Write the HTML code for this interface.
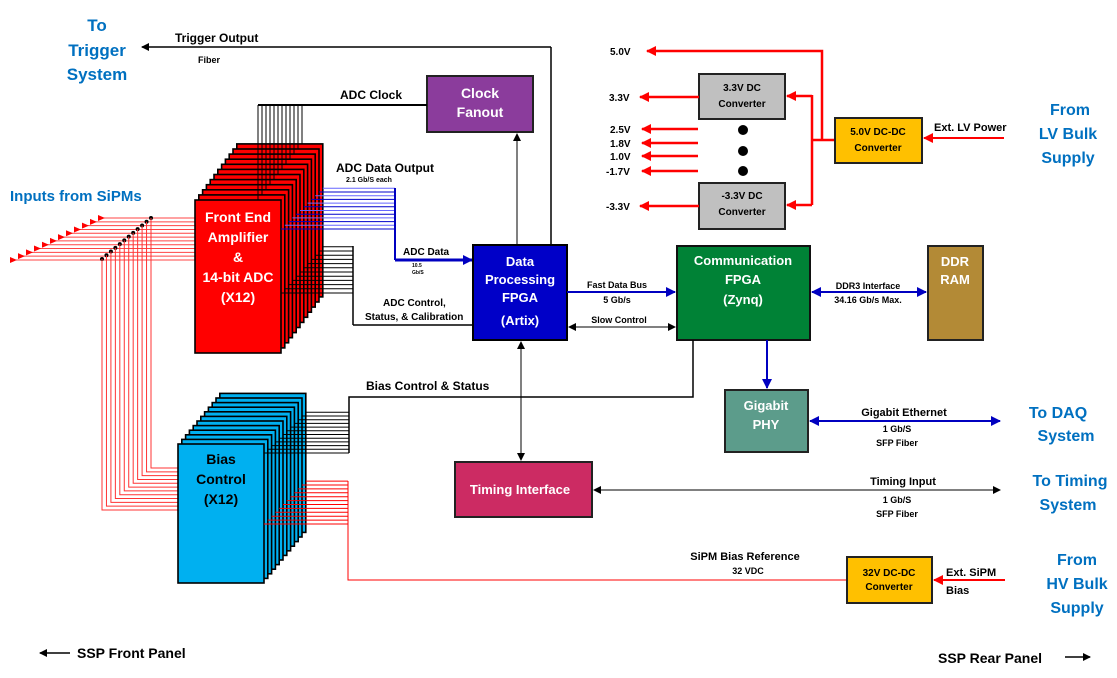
<!DOCTYPE html>
<html><head><meta charset="utf-8">
<style>
html,body{margin:0;padding:0;background:#fff;}
svg{display:block;font-family:"Liberation Sans",sans-serif;font-weight:bold;}
.w{fill:#fff;}
.b{fill:#000;}
.bl{fill:#0070C0;}
</style></head><body>
<svg id="s" width="1117" height="678" viewBox="0 0 1117 678" xmlns="http://www.w3.org/2000/svg">
<defs>
<marker id="ak" markerWidth="8" markerHeight="8" refX="7" refY="4" orient="auto" markerUnits="userSpaceOnUse"><path d="M0,0 L8,4 L0,8 z" fill="#000"/></marker>
<marker id="akr" markerWidth="8" markerHeight="8" refX="1" refY="4" orient="auto" markerUnits="userSpaceOnUse"><path d="M8,0 L0,4 L8,8 z" fill="#000"/></marker>
<marker id="ab" markerWidth="10" markerHeight="10" refX="9" refY="5" orient="auto" markerUnits="userSpaceOnUse"><path d="M0,0 L10,5 L0,10 z" fill="#0000C0"/></marker>
<marker id="abr" markerWidth="10" markerHeight="10" refX="1" refY="5" orient="auto" markerUnits="userSpaceOnUse"><path d="M10,0 L0,5 L10,10 z" fill="#0000C0"/></marker>
<marker id="ar" markerWidth="10" markerHeight="10" refX="9" refY="5" orient="auto" markerUnits="userSpaceOnUse"><path d="M0,0 L10,5 L0,10 z" fill="#F00"/></marker>
<marker id="ars" markerWidth="7" markerHeight="7" refX="6" refY="3.5" orient="auto" markerUnits="userSpaceOnUse"><path d="M0,0 L7,3.5 L0,7 z" fill="#F00"/></marker>
</defs>
<g id="gen"></g>

<!-- Top left -->
<text x="97" y="31" font-size="17" class="bl" text-anchor="middle">To</text>
<text x="97" y="56" font-size="17" class="bl" text-anchor="middle">Trigger</text>
<text x="97" y="80" font-size="17" class="bl" text-anchor="middle">System</text>
<line x1="551" y1="245" x2="551" y2="47" stroke="#000" stroke-width="1.5"/>
<line x1="551" y1="47" x2="142" y2="47" stroke="#000" stroke-width="1.5" marker-end="url(#ak)"/>
<text x="175" y="42" font-size="12" class="b">Trigger Output</text>
<text x="198" y="63" font-size="9" class="b">Fiber</text>

<text x="10" y="201" font-size="15" class="bl">Inputs from SiPMs</text>

<!-- Clock fanout -->
<rect x="427" y="76" width="106" height="56" fill="#8B3C9C" stroke="#222" stroke-width="2"/>
<text x="480" y="98" font-size="14" class="w" text-anchor="middle">Clock</text>
<text x="480" y="117" font-size="14" class="w" text-anchor="middle">Fanout</text>
<line x1="517" y1="245" x2="517" y2="134" stroke="#000" stroke-width="1" marker-end="url(#ak)"/>
<line x1="258" y1="105" x2="427" y2="105" stroke="#000" stroke-width="2"/>
<text x="340" y="99" font-size="12" class="b">ADC Clock</text>

<text x="336" y="172" font-size="12" class="b">ADC Data  Output</text>
<text x="346" y="182" font-size="7" class="b">2.1 Gb/S each</text>
<line x1="395" y1="188" x2="395" y2="260" stroke="#0000C0" stroke-width="2"/>
<line x1="395" y1="260" x2="472" y2="260" stroke="#0000C0" stroke-width="3" marker-end="url(#ab)"/>
<text x="403" y="255" font-size="10" class="b">ADC Data</text>
<text x="412" y="267" font-size="5" class="b">10.5</text>
<text x="412" y="274" font-size="5" class="b">Gb/S</text>

<line x1="353" y1="246" x2="353" y2="325" stroke="#000" stroke-width="1.5"/>
<line x1="353" y1="325" x2="473" y2="325" stroke="#000" stroke-width="1.5"/>
<text x="383" y="306" font-size="10" class="b">ADC Control,</text>
<text x="365" y="320" font-size="10" class="b">Status, &amp; Calibration</text>

<!-- Data processing FPGA -->
<rect x="473" y="245" width="94" height="95" fill="#0000C8" stroke="#000" stroke-width="2"/>
<text x="520" y="266" font-size="13" class="w" text-anchor="middle">Data</text>
<text x="520" y="284" font-size="13" class="w" text-anchor="middle">Processing</text>
<text x="520" y="302" font-size="13" class="w" text-anchor="middle">FPGA</text>
<text x="520" y="325" font-size="13" class="w" text-anchor="middle">(Artix)</text>

<line x1="567" y1="292" x2="675" y2="292" stroke="#0000C0" stroke-width="2" marker-end="url(#ab)"/>
<text x="617" y="288" font-size="9" class="b" text-anchor="middle">Fast Data Bus</text>
<text x="617" y="303" font-size="9" class="b" text-anchor="middle">5 Gb/s</text>
<line x1="569" y1="327" x2="675" y2="327" stroke="#000" stroke-width="1" marker-end="url(#ak)" marker-start="url(#akr)"/>
<text x="619" y="323" font-size="9" class="b" text-anchor="middle">Slow Control</text>

<!-- Comm FPGA -->
<rect x="677" y="246" width="133" height="94" fill="#008236" stroke="#111" stroke-width="2"/>
<text x="743" y="265" font-size="13" class="w" text-anchor="middle">Communication</text>
<text x="743" y="284" font-size="13" class="w" text-anchor="middle">FPGA</text>
<text x="743" y="304" font-size="13" class="w" text-anchor="middle">(Zynq)</text>

<line x1="812" y1="292" x2="926" y2="292" stroke="#0000C0" stroke-width="2" marker-end="url(#ab)" marker-start="url(#abr)"/>
<text x="868" y="289" font-size="9" class="b" text-anchor="middle">DDR3 Interface</text>
<text x="868" y="303" font-size="9" class="b" text-anchor="middle">34.16 Gb/s Max.</text>
<rect x="928" y="246" width="55" height="94" fill="#B38A36" stroke="#222" stroke-width="2"/>
<text x="955" y="266" font-size="13" class="w" text-anchor="middle">DDR</text>
<text x="955" y="284" font-size="13" class="w" text-anchor="middle">RAM</text>

<!-- Gigabit PHY -->
<line x1="767" y1="340" x2="767" y2="388" stroke="#0000C0" stroke-width="2" marker-end="url(#ab)"/>
<rect x="725" y="390" width="83" height="62" fill="#5C9C8B" stroke="#222" stroke-width="2"/>
<text x="766" y="410" font-size="13" class="w" text-anchor="middle">Gigabit</text>
<text x="766" y="429" font-size="13" class="w" text-anchor="middle">PHY</text>
<line x1="810" y1="421" x2="1000" y2="421" stroke="#0000C0" stroke-width="2" marker-end="url(#ab)" marker-start="url(#abr)"/>
<text x="904" y="416" font-size="11" class="b" text-anchor="middle">Gigabit Ethernet</text>
<text x="897" y="432" font-size="9" class="b" text-anchor="middle">1 Gb/S</text>
<text x="897" y="446" font-size="9" class="b" text-anchor="middle">SFP Fiber</text>
<text x="1058" y="418" font-size="16" class="bl" text-anchor="middle">To DAQ</text>
<text x="1066" y="441" font-size="16" class="bl" text-anchor="middle">System</text>

<!-- Bias control line -->
<polyline points="349,453 349,397 693,397 693,340" fill="none" stroke="#000" stroke-width="1.5"/>
<text x="366" y="390" font-size="12" class="b">Bias Control &amp; Status</text>

<!-- Timing -->
<line x1="521" y1="342" x2="521" y2="460" stroke="#000" stroke-width="1" marker-end="url(#ak)" marker-start="url(#akr)"/>
<rect x="455" y="462" width="137" height="55" fill="#CC2B63" stroke="#222" stroke-width="2"/>
<text x="520" y="494" font-size="13" class="w" text-anchor="middle">Timing Interface</text>
<line x1="594" y1="490" x2="1000" y2="490" stroke="#000" stroke-width="1" marker-end="url(#ak)" marker-start="url(#akr)"/>
<text x="903" y="485" font-size="11" class="b" text-anchor="middle">Timing Input</text>
<text x="897" y="503" font-size="9" class="b" text-anchor="middle">1 Gb/S</text>
<text x="897" y="517" font-size="9" class="b" text-anchor="middle">SFP Fiber</text>
<text x="1070" y="486" font-size="16" class="bl" text-anchor="middle">To Timing</text>
<text x="1068" y="510" font-size="16" class="bl" text-anchor="middle">System</text>

<!-- Bias supply -->
<polyline points="348,481 348,580 847,580" fill="none" stroke="#F00" stroke-width="1"/>
<text x="745" y="560" font-size="11" class="b" text-anchor="middle">SiPM Bias  Reference</text>
<text x="748" y="574" font-size="9" class="b" text-anchor="middle">32 VDC</text>
<rect x="847" y="557" width="85" height="46" fill="#FFC000" stroke="#222" stroke-width="2"/>
<text x="889" y="576" font-size="10" class="b" text-anchor="middle">32V DC-DC</text>
<text x="889" y="590" font-size="10" class="b" text-anchor="middle">Converter</text>
<line x1="1005" y1="580" x2="934" y2="580" stroke="#F00" stroke-width="2" marker-end="url(#ar)"/>
<text x="946" y="576" font-size="11" class="b">Ext. SiPM</text>
<text x="946" y="594" font-size="11" class="b">Bias</text>
<text x="1077" y="565" font-size="16" class="bl" text-anchor="middle">From</text>
<text x="1077" y="589" font-size="16" class="bl" text-anchor="middle">HV Bulk</text>
<text x="1077" y="613" font-size="16" class="bl" text-anchor="middle">Supply</text>

<!-- Power -->
<polyline points="822,140 822,51 647,51" fill="none" stroke="#F00" stroke-width="2.5" marker-end="url(#ar)"/>
<text x="610" y="55" font-size="10" class="b">5.0V</text>
<line x1="812" y1="140" x2="835" y2="140" stroke="#F00" stroke-width="2.5"/>
<line x1="812" y1="95" x2="812" y2="205" stroke="#F00" stroke-width="2.5"/>
<line x1="812" y1="96" x2="787" y2="96" stroke="#F00" stroke-width="2.5" marker-end="url(#ar)"/>
<line x1="812" y1="205" x2="787" y2="205" stroke="#F00" stroke-width="2.5" marker-end="url(#ar)"/>
<rect x="699" y="74" width="86" height="45" fill="#C0C0C0" stroke="#222" stroke-width="2"/>
<text x="742" y="91" font-size="10" class="b" text-anchor="middle">3.3V DC</text>
<text x="742" y="107" font-size="10" class="b" text-anchor="middle">Converter</text>
<rect x="699" y="183" width="86" height="46" fill="#C0C0C0" stroke="#222" stroke-width="2"/>
<text x="742" y="199" font-size="10" class="b" text-anchor="middle">-3.3V DC</text>
<text x="742" y="215" font-size="10" class="b" text-anchor="middle">Converter</text>
<line x1="699" y1="97" x2="640" y2="97" stroke="#F00" stroke-width="2.5" marker-end="url(#ar)"/>
<line x1="699" y1="206" x2="640" y2="206" stroke="#F00" stroke-width="2.5" marker-end="url(#ar)"/>
<line x1="698" y1="129" x2="642" y2="129" stroke="#F00" stroke-width="2.5" marker-end="url(#ar)"/>
<line x1="698" y1="143" x2="642" y2="143" stroke="#F00" stroke-width="2.5" marker-end="url(#ar)"/>
<line x1="698" y1="156" x2="642" y2="156" stroke="#F00" stroke-width="2.5" marker-end="url(#ar)"/>
<line x1="698" y1="171" x2="642" y2="171" stroke="#F00" stroke-width="2.5" marker-end="url(#ar)"/>
<text x="609" y="101" font-size="10" class="b">3.3V</text>
<text x="610" y="133" font-size="10" class="b">2.5V</text>
<text x="610" y="147" font-size="10" class="b">1.8V</text>
<text x="610" y="160" font-size="10" class="b">1.0V</text>
<text x="606" y="175" font-size="10" class="b">-1.7V</text>
<text x="606" y="210" font-size="10" class="b">-3.3V</text>
<circle cx="743" cy="130" r="5" fill="#000"/>
<circle cx="743" cy="151" r="5" fill="#000"/>
<circle cx="743" cy="171" r="5" fill="#000"/>
<rect x="835" y="118" width="87" height="45" fill="#FFC000" stroke="#222" stroke-width="2"/>
<text x="878" y="135" font-size="10" class="b" text-anchor="middle">5.0V DC-DC</text>
<text x="878" y="151" font-size="10" class="b" text-anchor="middle">Converter</text>
<line x1="1004" y1="138" x2="924" y2="138" stroke="#F00" stroke-width="2" marker-end="url(#ar)"/>
<text x="934" y="131" font-size="11" class="b">Ext. LV Power</text>
<text x="1070" y="115" font-size="16" class="bl" text-anchor="middle">From</text>
<text x="1068" y="139" font-size="16" class="bl" text-anchor="middle">LV Bulk</text>
<text x="1068" y="163" font-size="16" class="bl" text-anchor="middle">Supply</text>

<!-- Footer -->
<line x1="70" y1="653" x2="40" y2="653" stroke="#000" stroke-width="1.5" marker-end="url(#ak)"/>
<text x="77" y="658" font-size="14" class="b">SSP Front Panel</text>
<text x="938" y="663" font-size="14" class="b">SSP Rear Panel</text>
<line x1="1065" y1="657" x2="1090" y2="657" stroke="#000" stroke-width="1.5" marker-end="url(#ak)"/>

<g id="front"></g>
</svg>
<script>
var NS="http://www.w3.org/2000/svg";
var gen=document.getElementById("gen"), front=document.getElementById("front");
function el(p,t,a){var e=document.createElementNS(NS,t);for(var k in a)e.setAttribute(k,a[k]);p.appendChild(e);return e;}
// SiPM inputs
for(var i=0;i<12;i++){
  var t=i/11;
  var ax=12+t*88, ay=260-t*42;
  var y=ay;
  el(gen,"line",{x1:ax,y1:y,x2:196,y2:y,stroke:"#F44",'stroke-width':1});
  el(gen,"path",{d:"M"+(ax-2)+","+(y-3)+" L"+(ax+5)+","+y+" L"+(ax-2)+","+(y+3)+"z",fill:"#F00"});
  var dx=102+t*49, dy=259-t*41;
  el(gen,"circle",{cx:dx,cy:dy,r:2,fill:"#000"});
  var by=510-t*42;
  el(gen,"polyline",{points:dx+","+dy+" "+dx+","+by+" 179,"+by,fill:"none",stroke:"#F33",'stroke-width':1});
}
// ADC stack
for(var i=11;i>=0;i--){
  var x=195+i*3.8, y=200-i*5.1;
  el(gen,"rect",{x:x,y:y,width:86,height:153,fill:"#F00",stroke:"#000",'stroke-width':1.6});
  if(i>0){
    var cx=258+i*4;
    el(gen,"line",{x1:258+(i)*4,y1:105,x2:258+i*4,y2:y,stroke:"#000",'stroke-width':1});
  }
}
el(gen,"line",{x1:258,y1:105,x2:258,y2:200,stroke:"#000",'stroke-width':1});
for(var i=0;i<12;i++){
  var x=281+i*3.8, yb=229-i*3.7;
  el(gen,"line",{x1:x,y1:yb,x2:395,y2:yb,stroke:(i%2?"#66F":"#00C"),'stroke-width':1});
  var yc=293-i*4.2;
  el(gen,"line",{x1:x,y1:yc,x2:353,y2:yc,stroke:"#000",'stroke-width':1});
}
// Bias stack
for(var i=11;i>=0;i--){
  var x=178+i*3.8, y=444-i*4.6;
  el(gen,"rect",{x:x,y:y,width:86,height:139,fill:"#00B0F0",stroke:"#000",'stroke-width':1.6});
}
for(var i=0;i<12;i++){
  var x=264+i*3.8;
  var yb=453-i*3.7;
  el(gen,"line",{x1:x,y1:yb,x2:349,y2:yb,stroke:"#000",'stroke-width':1});
  var yr=524-i*3.9;
  el(gen,"line",{x1:x,y1:yr,x2:348,y2:yr,stroke:"#F00",'stroke-width':1});
}
// front labels on top
function tx(x,y,s,str,fill){var e=el(front,"text",{x:x,y:y,'font-size':s,fill:fill,'text-anchor':"middle"});e.textContent=str;}
tx(238,222,14,"Front End","#fff");
tx(238,242,14,"Amplifier","#fff");
tx(238,262,14,"&","#fff");
tx(238,282,14,"14-bit ADC","#fff");
tx(238,302,14,"(X12)","#fff");
tx(221,464,14,"Bias","#000");
tx(221,484,14,"Control","#000");
tx(221,504,14,"(X12)","#000");
</script>
</body></html>
